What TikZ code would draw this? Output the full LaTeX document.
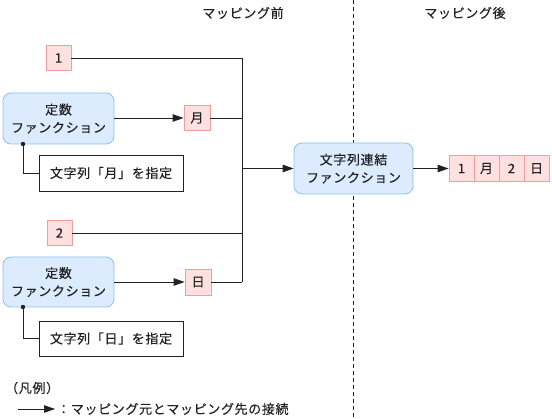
\documentclass[tikz,border=0pt]{standalone}
\usepackage{fontspec}
\setmainfont{Noto Sans CJK JP}[LetterSpace=5, FakeBold=0.4]
\usetikzlibrary{arrows.meta}
\definecolor{pinkfill}{HTML}{FFE0E0}
\definecolor{pinkdraw}{HTML}{F29C9C}
\definecolor{bluefill}{HTML}{DCEBFD}
\definecolor{bluedraw}{HTML}{8DC0F2}
\definecolor{txt}{HTML}{222222}
\definecolor{ln}{HTML}{222222}
\tikzset{
  cell/.style={draw=pinkdraw, fill=pinkfill, line width=0.8pt, minimum width=25pt, minimum height=25pt, inner sep=0pt, text=txt, font=\fontsize{13}{14}\selectfont},
  func/.style={draw=bluedraw, fill=bluefill, line width=0.8pt, rounded corners=8pt, inner sep=0pt, align=center, text=txt, font=\fontsize{13}{18}\selectfont},
  spec/.style={draw=ln, fill=white, line width=0.8pt, minimum width=144pt, minimum height=36pt, inner sep=0pt, text=txt, font=\fontsize{13}{14}\selectfont},
  conn/.style={draw=ln, line width=0.8pt},
  arr/.style={conn, -{Triangle[length=11pt,width=7.5pt]}},
  lbl/.style={text=txt, inner sep=0pt, font=\fontsize{13}{14}\selectfont}
}
\begin{document}
\begin{tikzpicture}[x=1pt,y=-1pt]
\useasboundingbox (0,0) rectangle (552,419);
% titles and divider
\node[lbl] (t1) at (243,13) {マッピング前};
\node[lbl] (t2) at (465,13) {マッピング後};
\coordinate (dtop) at (353,0);
\coordinate (dbot) at (353,419);
\draw[conn, dash pattern=on 4pt off 3pt] (dtop) -- (dbot);
% source items
\node[cell] (n1) at (58.5,58) {1};
\node[func, minimum width=111pt, minimum height=51pt] (f1) at (58.5,118.5) {定数\\ファンクション};
\node[cell, minimum width=26pt] (m) at (197,118) {月};
\node[spec] (s1) at (111,173) {文字列「月」を指定};
\node[cell] (n2) at (59.5,233) {2};
\node[func, minimum width=111pt, minimum height=50pt] (f2) at (58.5,282) {定数\\ファンクション};
\node[cell, minimum width=26pt, minimum height=26pt] (d) at (198,282) {日};
\node[spec, minimum height=35pt] (s2) at (111,338.5) {文字列「日」を指定};
% concatenation
\node[func, minimum width=119pt, minimum height=51pt] (cc) at (353.5,168.5) {文字列連結\\ファンクション};
\node[cell, minimum height=26pt] (r1) at (461.5,168.5) {1};
\node[cell, minimum height=26pt] (r2) at (486.5,168.5) {月};
\node[cell, minimum height=26pt] (r3) at (511.5,168.5) {2};
\node[cell, minimum height=26pt] (r4) at (536.5,168.5) {日};
% junction
\coordinate (jt) at (242,58);
\coordinate (jb) at (242,282);
\coordinate (jm) at (242,168.5);
\draw[conn] (jt) -- (jb);
\draw[conn] (n1.east) -- (jt);
\draw[conn] (m.east) -- (m.east -| jt);
\draw[conn] (n2.east) -- (n2.east -| jt);
\draw[conn] (d.east) -- (jb);
\draw[arr] (f1.east |- m) -- (m.west);
\draw[arr] (f2.east |- d) -- (d.west);
\draw[arr] (jm) -- (cc.west);
\draw[arr] (cc.east) -- (r1.west);
% spec links
\coordinate (p1) at (23,144);
\coordinate (p2) at (23,307);
\fill[ln] (p1) circle (2.2pt);
\fill[ln] (p2) circle (2.2pt);
\draw[conn] (p1) |- (s1.west);
\draw[conn] (p2) |- (s2.west);
% legend
\node[lbl, anchor=west] (lg) at (5,388) {（凡例）};
\coordinate (la) at (18,409);
\coordinate (lb) at (55,409);
\draw[arr] (la) -- (lb);
\node[lbl, anchor=west] (lt) at (57,409) {：マッピング元とマッピング先の接続};
\end{tikzpicture}
\end{document}
